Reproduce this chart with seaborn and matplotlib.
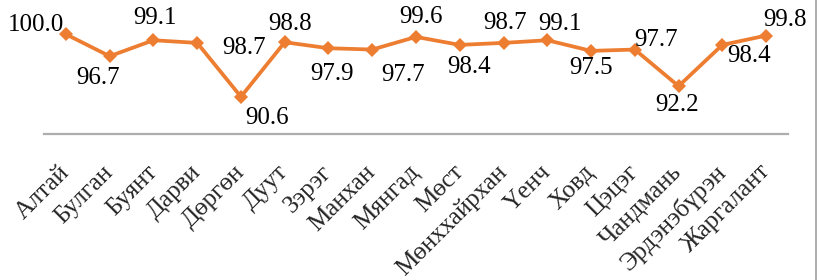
import matplotlib

matplotlib.use("Agg")
import pandas as pd
import seaborn as sns
import matplotlib.pyplot as plt
from matplotlib.lines import Line2D

SOUMS = [
    "Алтай", "Булган", "Буянт", "Дарви", "Дөргөн", "Дуут", "Зэрэг", "Манхан",
    "Мянгад", "Мөст", "Мөнххайрхан", "Үенч", "Ховд", "Цэцэг", "Чандмань",
    "Эрдэнэбүрэн", "Жаргалант",
]
VALUES = [
    100.0, 96.7, 99.1, 98.7, 90.6, 98.8, 97.9, 97.7,
    99.6, 98.4, 98.7, 99.1, 97.5, 97.7, 92.2,
    98.4, 99.8,
]

# label placement relative to each point (pixels, x right / y down, text centre)
LABEL_OFFSETS = [
    (-30, -12), (-12, 19), (2, -25), (47, 3), (26, 19), (5, -21), (4, 23),
    (31, 23), (5, -22), (9, 20), (2, -22), (13, -19), (0, 15), (21, -12),
    (-2, 16), (27, 9), (19, -18),
]

ORANGE = "#ED7D31"
FONT = ["Liberation Serif", "DejaVu Serif"]


def main():
    df = pd.DataFrame({"soum": SOUMS, "value": VALUES})
    df["pos"] = range(len(df))

    sns.set_style("white")
    plt.rcParams["font.family"] = FONT

    fig = plt.figure(figsize=(8.19, 2.8), dpi=100)
    ax = fig.add_axes([44 / 819, 146 / 280, 744 / 819, 133 / 280])

    sns.lineplot(
        data=df,
        x="pos",
        y="value",
        color=ORANGE,
        linewidth=2.7,
        marker="D",
        markersize=7.5,
        markeredgewidth=0,
        ax=ax,
    )
    for line in ax.lines:
        line.set_clip_on(False)

    px = 0.72  # points per pixel at 100 dpi
    for i, (v, (dx, dy)) in enumerate(zip(VALUES, LABEL_OFFSETS)):
        ax.annotate(
            f"{v:.1f}",
            xy=(i, v),
            xytext=(dx * px, -(dy + 8.5) * px),
            textcoords="offset points",
            ha="center",
            va="baseline",
            fontsize=18,
            color="black",
            family=FONT,
        )

    ax.set_xlim(-0.5, len(SOUMS) - 0.5)
    ax.set_ylim(85, 105)
    ax.set_xticks(range(len(SOUMS)))
    ax.set_xticklabels(
        SOUMS, rotation=45, ha="right", va="center", rotation_mode="anchor",
        fontsize=18, family=FONT,
    )
    ax.tick_params(axis="x", length=0, pad=25)
    ax.set_yticks([])
    ax.set(xlabel="", ylabel="")
    sns.despine(ax=ax, left=True, top=True, right=True)
    ax.spines["bottom"].set_color("#ADADAD")
    ax.spines["bottom"].set_linewidth(1.6)
    ax.grid(False)

    fig.add_artist(
        Line2D([815.5 / 819, 815.5 / 819], [0, 1], transform=fig.transFigure,
               color="#A0A0A0", linewidth=1.2)
    )

    fig.savefig("out.png", dpi=100, facecolor="white")


if __name__ == "__main__":
    main()
